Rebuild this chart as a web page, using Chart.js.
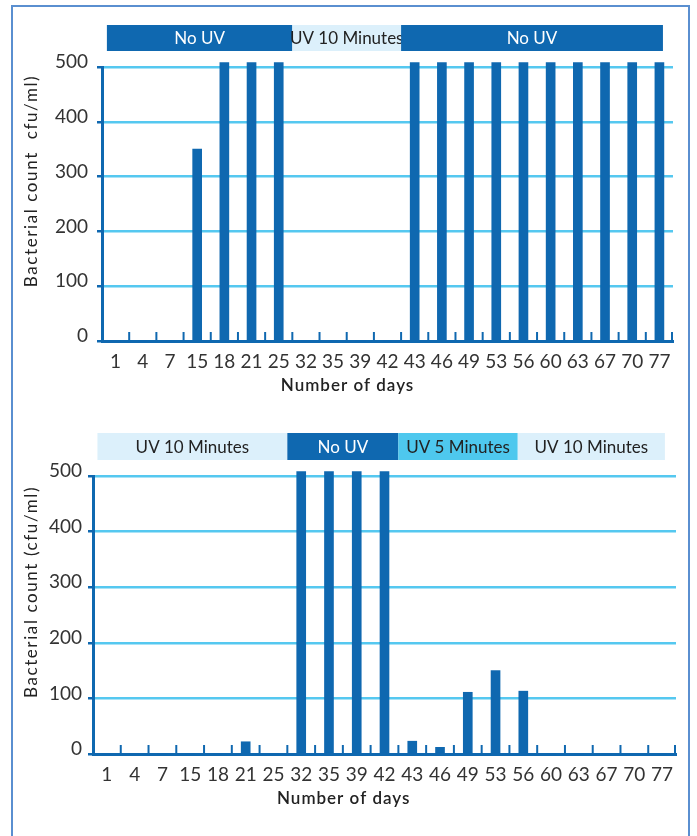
<html>
<head>
    <script src="https://cdn.jsdelivr.net/npm/chart.js@4/dist/chart.umd.min.js"></script>
    <title>Bacterial count</title>
    <style>
        body { margin: 0; background: #fff; width: 697px; height: 836px; overflow: hidden; position: relative; }
        #frame { position: absolute; left: 11px; top: 5px; width: 675px; height: 900px; border: 2px solid #5a8fd0; }
        canvas { position: absolute; left: 0; }
        #chart1 { top: 0; }
        #chart2 { top: 410px; }
    </style>
</head>
<body>
<div id="frame"></div>
<canvas id="chart1" width="697" height="410"></canvas>
<canvas id="chart2" width="697" height="426"></canvas>

<script>
    // days on the x axis (same for both charts)
    var days = ['1', '4', '7', '15', '18', '21', '25', '32', '35', '39', '42',
                '43', '46', '49', '53', '56', '60', '63', '67', '70', '77'];
    var yTicks = [0, 100, 200, 300, 400, 500];
    var xTitle = 'Number of days';

    // top chart
    var counts1 = [0, 0, 0, 350, 508, 508, 508, 0, 0, 0, 0,
                   508, 508, 508, 508, 508, 508, 508, 508, 508, 508];
    var yTitle1 = 'Bacterial count  cfu/ml)';
    var bands1Text = ['No UV', 'UV 10 Minutes', 'No UV'];
    var bands1Kind = ['none', 'uv10', 'none'];
    var bands1From = [0.18, 7, 11];
    var bands1To = [7, 11, 20.63];

    // bottom chart
    var counts2 = [0, 0, 0, 0, 0, 22, 0, 508, 508, 508, 508,
                   23, 12, 111, 150, 113, 0, 0, 0, 0, 0];
    var yTitle2 = 'Bacterial count (cfu/ml)';
    var bands2Text = ['UV 10 Minutes', 'No UV', 'UV 5 Minutes', 'UV 10 Minutes'];
    var bands2Kind = ['uv10', 'none', 'uv5', 'uv10'];
    var bands2From = [0.16, 7, 11, 15.3];
    var bands2To = [7, 11, 15.3, 20.6];

    var DARK = '#0f68b0';
    var GRID = '#55c8f0';
    var FONT = 'Lato, "DejaVu Sans", sans-serif';
    var bandFill = { none: DARK, uv10: '#dcf0fb', uv5: '#4ec8ee' };
    var bandInk = { none: '#ffffff', uv10: '#222222', uv5: '#222222' };

    // header bands, axis titles and the little upward ticks between the days
    var decor = {
        id: 'decor',
        afterDatasetsDraw: function (chart, args, opts) {
            var ctx = chart.ctx;
            var x = chart.scales.x;
            var area = chart.chartArea;
            ctx.save();
            // ticks at category boundaries
            ctx.strokeStyle = DARK;
            ctx.lineWidth = 2;
            for (var i = 1; i <= days.length; i++) {
                var px = x.getPixelForValue(i - 0.5);
                if (i === days.length) px -= 1;
                ctx.beginPath();
                ctx.moveTo(px, area.bottom);
                ctx.lineTo(px, area.bottom - 9);
                ctx.stroke();
            }
            // bands
            ctx.font = '17px ' + FONT;
            ctx.textAlign = 'center';
            ctx.textBaseline = 'middle';
            var top = area.top - opts.above;
            for (var b = 0; b < opts.text.length; b++) {
                var x0 = x.getPixelForValue(opts.from[b] - 0.5);
                var x1 = x.getPixelForValue(opts.to[b] - 0.5);
                ctx.fillStyle = bandFill[opts.kind[b]];
                ctx.fillRect(x0, top, x1 - x0, opts.height);
                ctx.fillStyle = bandInk[opts.kind[b]];
                ctx.fillText(opts.text[b], (x0 + x1) / 2, top + opts.height / 2 + 1);
            }
            // axis titles (the original type is wide, so spread the letters)
            ctx.fillStyle = '#222';
            ctx.letterSpacing = '1px';
            ctx.font = '600 17px ' + FONT;
            ctx.fillText(xTitle, area.left + (area.right - area.left) * 0.43, area.bottom + 45);
            ctx.letterSpacing = '1.6px';
            ctx.font = '17px ' + FONT;
            ctx.translate(31.5, (area.top + area.bottom) / 2 - 23);
            ctx.rotate(-Math.PI / 2);
            ctx.fillText(opts.yTitle, 0, 0);
            ctx.restore();
        }
    };

    function makeChart(id, values, bands, pad, yWidth, tickPad) {
        return new Chart(document.getElementById(id), {
            type: 'bar',
            data: {
                labels: days,
                datasets: [{
                    data: values,
                    backgroundColor: DARK,
                    barThickness: 9,
                    clip: false
                }]
            },
            options: {
                responsive: false,
                animation: false,
                layout: { padding: pad },
                plugins: {
                    legend: { display: false },
                    tooltip: { enabled: false },
                    decor: bands
                },
                scales: {
                    x: {
                        grid: { display: false },
                        border: { color: DARK, width: 3 },
                        ticks: {
                            autoSkip: false, maxRotation: 0, padding: 1,
                            color: '#333', font: { family: FONT, size: 19 }
                        },
                        afterFit: function (s) { s.height = 59; }
                    },
                    y: {
                        min: 0,
                        max: 500,
                        afterBuildTicks: function (s) {
                            s.ticks = yTicks.map(function (v) { return { value: v }; });
                        },
                        grid: {
                            color: function (c) { return c.tick && c.tick.value === 0 ? DARK : GRID; },
                            tickColor: DARK,
                            lineWidth: 2.5,
                            tickLength: 5
                        },
                        border: { color: DARK, width: 3 },
                        ticks: {
                            padding: tickPad, labelOffset: -5,
                            color: '#333', font: { family: FONT, size: 19 }
                        },
                        afterFit: function (s) { s.width = yWidth; }
                    }
                }
            },
            plugins: [decor]
        });
    }

    makeChart('chart1', counts1,
        { text: bands1Text, kind: bands1Kind, from: bands1From, to: bands1To, above: 42, height: 26, yTitle: yTitle1 },
        { top: 67, left: 18, right: 24, bottom: 10 }, 84, 9);

    makeChart('chart2', counts2,
        { text: bands2Text, kind: bands2Kind, from: bands2From, to: bands2To, above: 43, height: 27, yTitle: yTitle2 },
        { top: 66, left: 18, right: 21, bottom: 23 }, 75, 6);
</script>
</body>
</html>
